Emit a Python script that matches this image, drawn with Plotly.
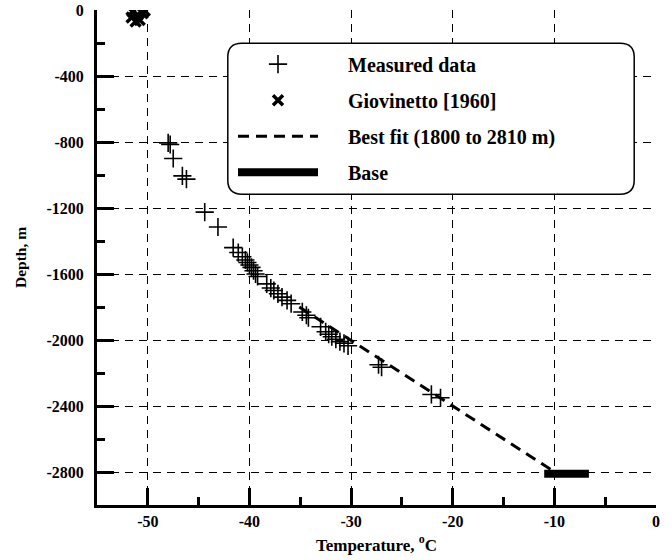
import plotly.graph_objects as go

# Measured data (temperature degC, depth m)
meas_T = [-48.0, -47.8, -47.5, -46.6, -46.2, -44.4, -43.1, -41.6, -41.1, -40.7, -40.4, -40.2,
          -40.0, -39.8, -39.6, -39.4, -39.2, -38.3, -37.9, -37.6, -37.2, -36.8, -36.3, -35.9,
          -34.8, -34.4, -34.2, -33.0, -32.5, -32.2, -31.9, -31.5, -31.1, -30.7, -30.3,
          -27.3, -27.0, -22.1, -21.2]
meas_D = [-805, -815, -900, -1005, -1025, -1225, -1315, -1440, -1470, -1495, -1515, -1530,
          -1545, -1560, -1580, -1600, -1615, -1660, -1685, -1700, -1720, -1740, -1760, -1780,
          -1830, -1850, -1865, -1920, -1950, -1965, -1980, -1995, -2010, -2020, -2035,
          -2150, -2165, -2330, -2350]

# Giovinetto [1960]
gio_T = [-51.5, -51.0, -50.8, -50.5, -51.2, -50.3, -51.6]
gio_D = [-10, -30, -60, -20, -70, -5, -45]

# Best fit (1800 to 2810 m)
fit_T = [-35.1, -9.7]
fit_D = [-1800, -2810]

# Base
base_T = [-11.0, -6.6]
base_D = [-2810, -2810]

x_ticks = [-50, -40, -30, -20, -10, 0]
y_ticks = [0, -400, -800, -1200, -1600, -2000, -2400, -2800]

FONT = "Liberation Serif"
PAD = "&nbsp;" * 5

fig = go.Figure()
fig.add_trace(go.Scatter(x=meas_T, y=meas_D, mode="markers", name=PAD + "Measured data", legendgroup="a",
                         marker=dict(symbol="cross-thin", size=13, line=dict(width=1.6, color="black"), color="black")))
fig.add_trace(go.Scatter(x=gio_T, y=gio_D, mode="markers", name=PAD + "Giovinetto [1960]", legendgroup="b",
                         marker=dict(symbol="x-thin", size=10, line=dict(width=3.5, color="black"), color="black")))
fig.add_trace(go.Scatter(x=fit_T, y=fit_D, mode="lines", name=PAD + "Best fit (1800 to 2810 m)", legendgroup="c",
                         line=dict(color="black", width=3, dash="11px,7px")))
fig.add_trace(go.Scatter(x=base_T, y=base_D, mode="lines", name=PAD + "Base", legendgroup="d",
                         line=dict(color="black", width=8)))

# rounded legend box (paper coordinates)
x0, x1, y0, y1 = 0.234, 0.961, 0.628, 0.933
rx, ry = 0.025, 0.028
path = (f"M {x0+rx},{y1} L {x1-rx},{y1} Q {x1},{y1} {x1},{y1-ry} L {x1},{y0+ry} "
        f"Q {x1},{y0} {x1-rx},{y0} L {x0+rx},{y0} Q {x0},{y0} {x0},{y0+ry} "
        f"L {x0},{y1-ry} Q {x0},{y1} {x0+rx},{y1} Z")
fig.add_shape(type="path", path=path, xref="paper", yref="paper",
              line=dict(color="black", width=1.5), fillcolor="white", layer="above")

axis_common = dict(
    showline=True, linecolor="black", linewidth=3, mirror=False,
    ticks="inside", ticklen=17, tickwidth=3, tickcolor="black",
    showgrid=True, gridcolor="black", gridwidth=1.2, griddash="8px,6px",
    zeroline=False, automargin=False,
    tickfont=dict(family=FONT, size=16, color="black", weight="bold"),
)

fig.update_xaxes(range=[-55, 0], tickvals=x_ticks, ticktext=[str(v) for v in x_ticks],
                 minor=dict(dtick=5, tick0=-55, ticks="inside", ticklen=8, tickwidth=3, tickcolor="black", showgrid=False),
                 title=dict(text="Temperature, <sup>o</sup>C", font=dict(family=FONT, size=17, color="black", weight="bold"), standoff=10),
                 **axis_common)
fig.update_yaxes(range=[-3000, 0], tickvals=y_ticks, ticktext=[str(v) for v in y_ticks],
                 minor=dict(dtick=200, tick0=0, ticks="inside", ticklen=8, tickwidth=3, tickcolor="black", showgrid=False),
                 title=dict(text="Depth, m", font=dict(family=FONT, size=15.5, color="black", weight="bold"), standoff=17),
                 ticklabelstandoff=7,
                 **axis_common)

fig.update_layout(
    width=672, height=560,
    margin=dict(l=97, r=16, t=10, b=55),
    plot_bgcolor="white", paper_bgcolor="white",
    font=dict(family=FONT, color="black"),
    legend=dict(x=0.2433, y=0.93, xanchor="left", yanchor="top",
                bgcolor="rgba(0,0,0,0)", borderwidth=0,
                font=dict(family=FONT, size=20, color="black", weight="bold"),
                itemwidth=80, tracegroupgap=7),
)

fig.write_html("out.html", config={"displayModeBar": False},
               post_script="document.body.style.margin='0';")
